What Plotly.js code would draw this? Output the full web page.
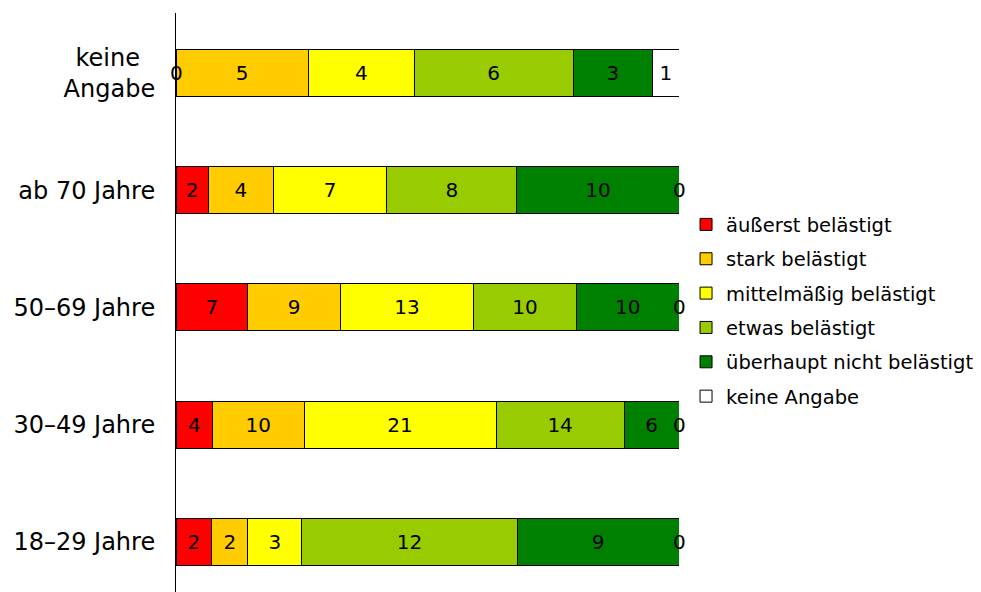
<!DOCTYPE html>
<html>
<head>
<meta charset="utf-8">
<script src="https://cdn.plot.ly/plotly-3.0.1.min.js"></script>
<style>html,body{margin:0;padding:0;background:#fff;}#chart{width:981px;height:592px;}</style>
</head>
<body>
<div id="chart"></div>
<script>
// Categories (bottom to top)
const categories = ["18\u201329 Jahre", "30\u201349 Jahre", "50\u201369 Jahre", "ab 70 Jahre", "keine\u00a0\u00a0<br>Angabe"];
const seriesNames = ["äußerst belästigt", "stark belästigt", "mittelmäßig belästigt", "etwas belästigt", "überhaupt nicht belästigt", "keine Angabe"];
const seriesColors = ["#FF0000", "#FFCC00", "#FFFF00", "#99CC00", "#008000", "#FFFFFF"];
const aeusserst   = [2, 4, 7, 2, 0];
const stark       = [2, 10, 9, 4, 5];
const mittel      = [3, 21, 13, 7, 4];
const etwas       = [12, 14, 10, 8, 6];
const ueberhaupt  = [9, 6, 10, 10, 3];
const keineAngabe = [0, 0, 0, 0, 1];

const series = [aeusserst, stark, mittel, etwas, ueberhaupt, keineAngabe];
const FONT = "DejaVu Sans, Verdana, sans-serif";

const traces = series.map((vals, i) => ({
  type: 'bar',
  orientation: 'h',
  name: seriesNames[i],
  legendgroup: 'g' + i,
  y: categories,
  x: vals,
  text: vals.map(v => v === 0 ? '' : String(v)),
  textposition: 'inside',
  insidetextanchor: 'middle',
  constraintext: 'none',
  cliponaxis: false,
  textfont: {family: FONT, size: 20, color: '#000'},
  marker: {color: seriesColors[i], line: {color: '#000', width: 1}},
  hoverinfo: 'none'
}));

// Zero-value labels at segment boundaries
const totals = categories.map((c, j) => series.reduce((s, arr) => s + arr[j], 0));
const annotations = [];
categories.forEach((c, j) => {
  let cum = 0;
  series.forEach((arr, i) => {
    if (arr[j] === 0) {
      annotations.push({
        x: cum / totals[j] * 100, y: c, xref: 'x', yref: 'y',
        text: '0', showarrow: false, xanchor: 'center', yanchor: 'middle',
        font: {family: FONT, size: 20, color: '#000'}
      });
    }
    cum += arr[j];
  });
});

const layout = {
  width: 981, height: 592,
  margin: {l: 176, r: 302, t: 13, b: 0, pad: 0},
  paper_bgcolor: '#fff', plot_bgcolor: '#fff',
  barmode: 'stack', barnorm: 'percent', bargap: 0.6,
  showlegend: true,
  legend: {
    x: 1.014, xanchor: 'left', y: 0.668, yanchor: 'top',
    traceorder: 'grouped', tracegroupgap: 6,
    font: {family: FONT, size: 19.5, color: '#000'},
    itemclick: false
  },
  xaxis: {visible: false, range: [0, 100], fixedrange: true},
  yaxis: {
    type: 'category', range: [-0.426, 4.51],
    showline: true, linecolor: '#000', linewidth: 1,
    showgrid: false, zeroline: false, ticks: '',
    ticklabelstandoff: 15,
    tickfont: {family: FONT, size: 24, color: '#000'},
    fixedrange: true
  },
  annotations: annotations,
  font: {family: FONT}
};

Plotly.newPlot('chart', traces, layout, {displayModeBar: false, staticPlot: true});
</script>
</body>
</html>
